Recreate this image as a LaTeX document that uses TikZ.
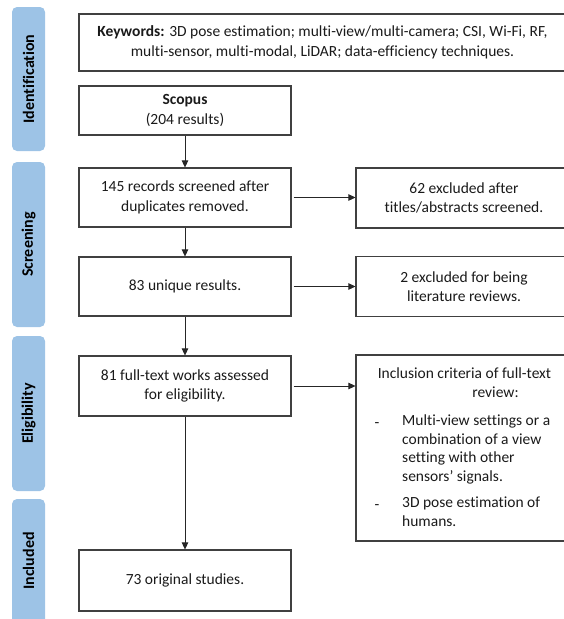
\documentclass[tikz,border=0pt]{standalone}
\usepackage{fontspec}
\setmainfont{Carlito}[Ligatures=NoCommon]
\usetikzlibrary{arrows.meta}
\definecolor{barblue}{HTML}{9DC3E6}
\definecolor{boxline}{HTML}{404040}
\definecolor{txtc}{HTML}{1A1A1A}
\begin{document}
\begin{tikzpicture}[x=1pt,y=-1pt,
  bar/.style={fill=barblue, rounded corners=5pt},
  barlabel/.style={rotate=90, font=\fontsize{16}{18}\selectfont\bfseries, text=black, inner sep=0pt},
  flowbox/.style={draw=boxline, line width=1.1pt, align=center, text=txtc,
    font=\fontsize{15.5}{19.5}\selectfont, inner sep=0pt},
  plain/.style={text=txtc, font=\fontsize{15.5}{18.5}\selectfont, inner sep=0pt},
  arr/.style={-{Triangle[length=7pt,width=6.5pt]}, line width=0.7pt, draw=black!85}
]
\useasboundingbox (0,0) rectangle (564,619);
% side bars
\fill[bar] (12,7) rectangle (45,151);
\node[barlabel] (lid) at (28.5,79) {Identification};
\fill[bar] (12,162) rectangle (45,327);
\node[barlabel] (lsc) at (28.5,244.5) {Screening};
\fill[bar] (12,336) rectangle (45,491);
\node[barlabel] (lel) at (28.5,413.5) {Eligibility};
\fill[bar] (12,499) rectangle (45,650);
\node[barlabel] (lin) at (28.5,561) {Included};
% boxes
\node[flowbox, minimum width=487pt, minimum height=57pt] (kw) at (322.5,42.5)
  {\textbf{Keywords:} 3D pose estimation; multi-view/multi-camera; CSI, Wi-Fi, RF,\\multi-sensor, multi-modal, LiDAR; data-efficiency techniques.};
\node[flowbox, minimum width=212pt, minimum height=49pt] (scopus) at (185,110.5)
  {\textbf{Scopus}\\(204 results)};
\node[flowbox, minimum width=212pt, minimum height=59pt] (s145) at (185,197.5)
  {145 records screened after\\duplicates removed.};
\node[flowbox, minimum width=216pt, minimum height=60pt] (s62) at (464,198)
  {62 excluded after\\titles/abstracts screened.};
\node[flowbox, minimum width=212pt, minimum height=59pt] (s83) at (185,286.5)
  {83 unique results.};
\node[flowbox, minimum width=216pt, minimum height=60pt] (s2) at (464,286.5)
  {2 excluded for being\\literature reviews.};
\node[flowbox, minimum width=212pt, minimum height=60pt] (s81) at (185,386)
  {81 full-text works assessed\\for eligibility.};
\node[flowbox, minimum width=216pt, minimum height=186pt] (inc) at (464,448) {};
\node[flowbox, minimum width=212pt, minimum height=61pt] (s73) at (185,580.5)
  {73 original studies.};
% inclusion criteria text
\node[plain, anchor=base] (inc1) at (464.5,378) {Inclusion criteria of full-text};
\node[plain, anchor=base] (inc2) at (495.5,397) {review:};
\node[plain, anchor=base] (d1) at (377,427) {-};
\node[plain, anchor=north west, align=left] (inc3) at (402,415)
  {Multi-view settings or a\\combination of a view\\setting with other\\sensors’ signals.};
\node[plain, anchor=base] (d2) at (377,509) {-};
\node[plain, anchor=north west, align=left] (inc4) at (402,497)
  {3D pose estimation of\\humans.};
% connectors
\draw[arr] (scopus) -- (s145);
\draw[arr] (s145) -- (s83);
\draw[arr] (s83) -- (s81);
\draw[arr] (s81) -- (s73);
\draw[arr, shorten <=2pt] (s145.east) -- (s145.east -| s62.west);
\draw[arr, shorten <=2pt] (s83.east) -- (s83.east -| s2.west);
\draw[arr, shorten <=2pt] (s81.east) -- (s81.east -| inc.west);
\end{tikzpicture}
\end{document}
